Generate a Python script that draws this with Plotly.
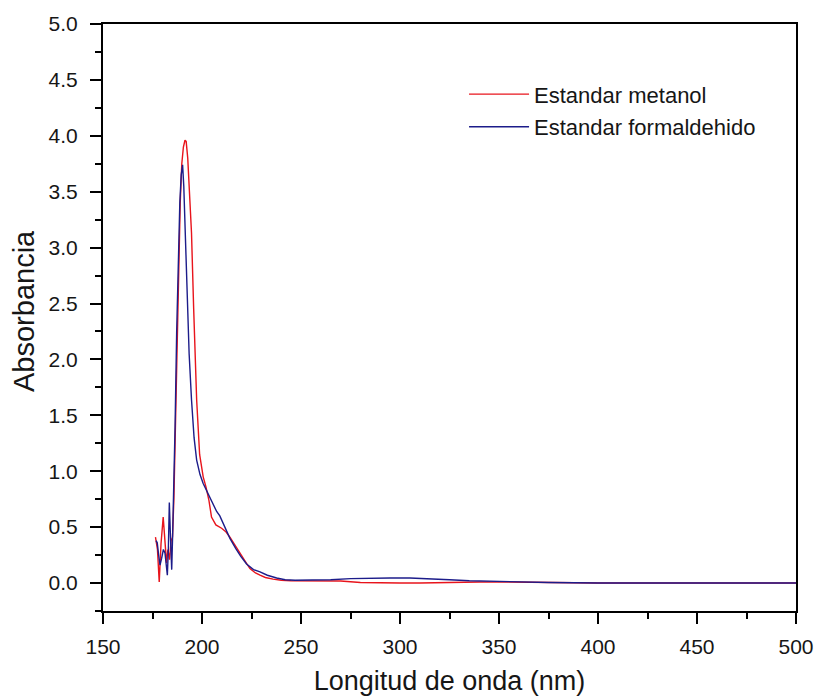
import plotly.graph_objects as go

# Estandar metanol
wl_metanol = [176.5, 177.5, 178.4, 179.3, 180.4, 181.2, 182.1, 182.8, 183.6, 184.4, 185.1, 185.8,
              186.5, 187.3, 188.1, 189.0, 189.8, 190.6, 191.4, 192.0, 192.8, 193.6, 194.7, 195.8,
              197.3, 198.8, 200.6, 202.0, 203.5, 204.8, 207.0, 209.9, 212.0, 214.1, 216.5, 219.2,
              222.0, 224.2, 227.0, 229.3, 232.0, 235.9, 240, 245, 250, 260, 270, 280, 290, 300,
              310, 320, 330, 340, 350, 375, 400, 450, 500]
abs_metanol = [0.41, 0.30, 0.01, 0.35, 0.59, 0.35, 0.18, 0.30, 0.21, 0.38, 0.41, 0.75,
               1.40, 2.10, 2.80, 3.40, 3.75, 3.90, 3.96, 3.95, 3.80, 3.50, 3.13, 2.45,
               1.64, 1.15, 0.95, 0.86, 0.74, 0.59, 0.52, 0.49, 0.46, 0.41, 0.34, 0.27,
               0.19, 0.13, 0.09, 0.07, 0.05, 0.035, 0.025, 0.02, 0.02, 0.02, 0.018, 0.005, 0.0, 0.0,
               0.0, 0.005, 0.01, 0.01, 0.01, 0.005, 0.0, 0.0, 0.0]

# Estandar formaldehido
wl_formal = [176.8, 177.4, 178.1, 178.8, 179.6, 180.5, 181.3, 182.0, 182.5, 183.0, 183.5, 184.1,
             184.7, 185.2, 185.6, 186.4, 187.2, 188.0, 188.8, 189.5, 190.2, 190.8, 191.6, 192.5,
             193.5, 194.7, 196.0, 197.3, 199.0, 200.6, 203.0, 205.0, 207.4, 209.0, 211.5, 214.1,
             217.0, 219.5, 222.5, 226.0, 229.3, 233.0, 237.7, 242, 247, 255, 265, 275, 285, 295,
             305, 315, 325, 335, 345, 355, 375, 400, 450, 500]
abs_formal = [0.38, 0.36, 0.25, 0.16, 0.22, 0.30, 0.27, 0.18, 0.07, 0.30, 0.72, 0.40,
              0.12, 0.45, 0.74, 1.40, 2.24, 2.90, 3.40, 3.65, 3.74, 3.55, 3.05, 2.53,
              2.05, 1.64, 1.30, 1.10, 0.97, 0.89, 0.80, 0.72, 0.64, 0.60, 0.50, 0.40,
              0.31, 0.24, 0.17, 0.12, 0.10, 0.07, 0.045, 0.03, 0.025, 0.025, 0.03, 0.04, 0.045, 0.045,
              0.045, 0.04, 0.03, 0.02, 0.015, 0.01, 0.005, 0.0, 0.0, 0.0]

y_ticks = [0.0, 0.5, 1.0, 1.5, 2.0, 2.5, 3.0, 3.5, 4.0, 4.5, 5.0]
x_ticks = [150, 200, 250, 300, 350, 400, 450, 500]

FONT = "Liberation Sans, Arial, sans-serif"
TXT = "#161616"

fig = go.Figure()
fig.add_trace(go.Scatter(x=wl_metanol, y=abs_metanol, mode="lines", name="Estandar metanol",
                         legendgroup="a",
                         line=dict(color="#e8141c", width=1.4)))
fig.add_trace(go.Scatter(x=wl_formal, y=abs_formal, mode="lines", name="Estandar formaldehido",
                         legendgroup="b",
                         line=dict(color="#1c1c8a", width=1.4)))

axis_common = dict(showline=True, linecolor="black", linewidth=2, mirror=True,
                   ticks="outside", ticklen=11, tickwidth=2, tickcolor="black",
                   showgrid=False, zeroline=False, automargin=False,
                   tickfont=dict(family=FONT, size=21, color=TXT))

fig.update_xaxes(range=[150, 500], tickvals=x_ticks, ticktext=[str(v) for v in x_ticks],
                 minor=dict(dtick=25, tick0=150, ticks="outside", ticklen=6, tickwidth=2,
                            tickcolor="black", showgrid=False),
                 ticklabelstandoff=5,
                 title=dict(text="Longitud de onda (nm)", font=dict(family=FONT, size=27, color=TXT),
                            standoff=17),
                 **axis_common)
fig.update_yaxes(range=[-0.25, 5.0], tickvals=y_ticks, ticktext=[f"{v:.1f}" for v in y_ticks],
                 minor=dict(dtick=0.25, tick0=0, ticks="outside", ticklen=6, tickwidth=2,
                            tickcolor="black", showgrid=False),
                 ticklabelstandoff=8,
                 **axis_common)

# y-axis title placed as rotated text left of the tick labels
fig.add_annotation(text="Absorbancia", xref="paper", yref="paper",
                   x=-(103 - 24) / 693, y=(611 - 311) / 587,
                   xanchor="center", yanchor="middle", textangle=-90, showarrow=False,
                   font=dict(family=FONT, size=29, color=TXT))

fig.update_layout(width=817, height=696,
                  margin=dict(l=103, r=21, t=24, b=85),
                  plot_bgcolor="white", paper_bgcolor="white",
                  showlegend=True,
                  legend=dict(x=0.521, y=0.916, xanchor="left", yanchor="top",
                              bgcolor="rgba(0,0,0,0)", borderwidth=0,
                              font=dict(family=FONT, size=22, color=TXT),
                              tracegroupgap=1, itemwidth=60))

fig.write_html("out.html")
